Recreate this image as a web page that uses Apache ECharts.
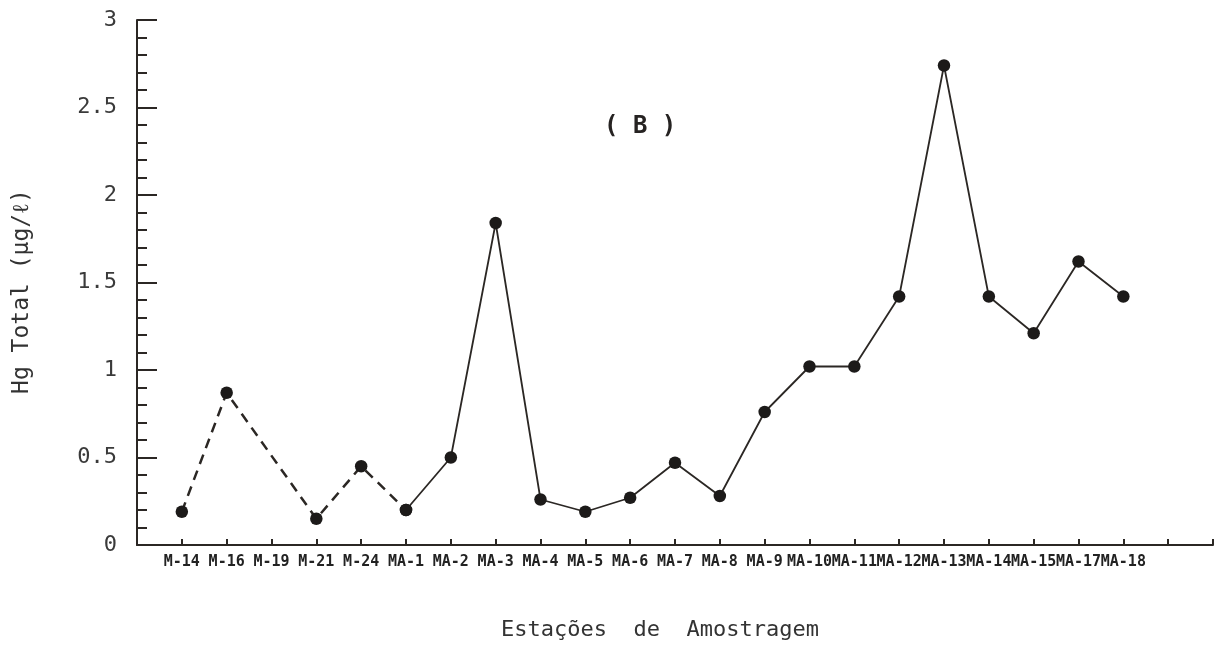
<!DOCTYPE html>
<html>
<head>
<meta charset="utf-8">
<script src="https://cdn.jsdelivr.net/npm/echarts@6/dist/echarts.min.js"></script>
<style>
  html, body { margin: 0; padding: 0; background: #ffffff; }
  #chart { width: 1220px; height: 645px; }
</style>
</head>
<body>
<div id="chart"></div>
<script>
// Sampling stations along the transect
const stations = ['M-14', 'M-16', 'M-19', 'M-21', 'M-24', 'MA-1', 'MA-2', 'MA-3', 'MA-4', 'MA-5', 'MA-6',
                  'MA-7', 'MA-8', 'MA-9', 'MA-10', 'MA-11', 'MA-12', 'MA-13', 'MA-14', 'MA-15', 'MA-17', 'MA-18'];
// Total mercury (µg/l); M-19 has no measurement
const hgTotal = [0.19, 0.87, null, 0.15, 0.45, 0.20, 0.50, 1.84, 0.26, 0.19, 0.27,
                 0.47, 0.28, 0.76, 1.02, 1.02, 1.42, 2.74, 1.42, 1.21, 1.62, 1.42];
// Y-axis ticks
const yTicks = [0, 0.5, 1, 1.5, 2, 2.5, 3];
// The M-stations (up to and including MA-1) are joined by a dashed line
const dashedEnd = stations.indexOf('MA-1');

const ink = '#2b2724';
const mono = 'DejaVu Sans Mono';

const points = stations.map((s, i) => [i, hgTotal[i]]);

const markerSeries = {
  type: 'line',
  symbol: 'circle',
  symbolSize: 12.5,
  itemStyle: { color: '#1c1a19' },
  emphasis: { disabled: true },
  z: 3
};

const chart = echarts.init(document.getElementById('chart'), null, { renderer: 'canvas' });
chart.setOption({
  animation: false,
  backgroundColor: '#ffffff',
  title: {
    text: '( B )',
    left: 604,
    top: 115,
    padding: 0,
    textStyle: { fontFamily: mono, fontSize: 24, fontWeight: 'bold', color: '#262322' }
  },
  grid: { left: 137, right: 7, top: 20, bottom: 100, containLabel: false, outerBoundsMode: 'none' },
  xAxis: {
    type: 'value',
    min: -1,
    max: stations.length + 1,
    interval: 1,
    splitLine: { show: false },
    axisLine: { onZero: false, lineStyle: { color: ink, width: 2 } },
    axisTick: { inside: true, length: 6, lineStyle: { color: ink, width: 2 } },
    axisLabel: {
      margin: 10,
      fontFamily: mono,
      fontWeight: 'bold',
      fontSize: 15,
      color: '#222',
      formatter: v => stations[Math.round(v)] || ''
    },
    name: 'Estações  de  Amostragem',
    nameLocation: 'middle',
    nameGap: 74,
    nameTextStyle: { fontFamily: mono, fontSize: 22, color: '#333', padding: [0, 30, 0, 0] }
  },
  yAxis: {
    type: 'value',
    min: yTicks[0],
    max: yTicks[yTicks.length - 1],
    interval: yTicks[1] - yTicks[0],
    splitLine: { show: false },
    axisLine: { show: true, onZero: false, lineStyle: { color: ink, width: 2 } },
    axisTick: { show: true, inside: true, length: 20, lineStyle: { color: ink, width: 2 } },
    minorTick: { show: true, splitNumber: 5, length: 10, lineStyle: { color: ink, width: 2 } },
    axisLabel: {
      margin: 20,
      fontFamily: mono,
      fontSize: 22,
      color: '#3a3a3a',
      formatter: v => String(v)
    },
    name: 'Hg Total (μg/ℓ)',
    nameLocation: 'middle',
    nameRotate: 90,
    nameGap: 103,
    nameTextStyle: { fontFamily: mono, fontSize: 23, color: '#333', padding: [0, 18, 0, 0] }
  },
  series: [
    Object.assign({}, markerSeries, {
      name: 'M',
      data: points.slice(0, dashedEnd + 1),
      connectNulls: true,
      lineStyle: { color: ink, width: 2.5, type: [10, 7] }
    }),
    Object.assign({}, markerSeries, {
      name: 'MA',
      data: points.slice(dashedEnd),
      lineStyle: { color: ink, width: 1.8, type: 'solid' }
    })
  ]
});
</script>
</body>
</html>
